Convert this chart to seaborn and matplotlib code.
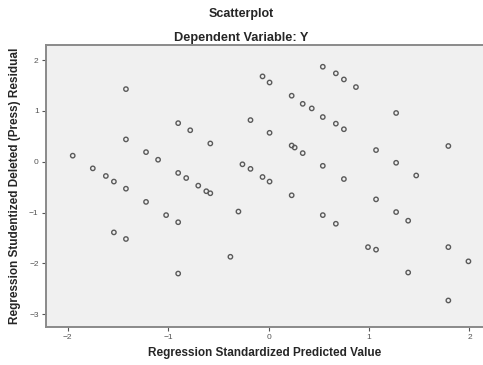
import matplotlib
matplotlib.use("Agg")
import matplotlib.pyplot as plt
import seaborn as sns
import pandas as pd

predicted = [-1.95, -1.75, -1.62, -1.54, -1.42, -1.42, -1.42, -1.54, -1.42, -1.22,
             -1.10, -1.22, -1.02, -0.90, -0.90, -0.90, -0.78, -0.90, -0.82, -0.70,
             -0.62, -0.58, -0.58, -0.38, -0.30, -0.26, -0.18, -0.18, -0.06, 0.01,
             -0.06, 0.01, 0.01, 0.23, 0.34, 0.43, 0.54, 0.67, 0.75, 0.54,
             0.67, 0.75, 0.87, 0.23, 0.26, 0.34, 0.23, 0.54, 0.75, 0.54,
             0.67, 1.07, 1.27, 1.27, 1.47, 1.79, 1.07, 1.27, 1.39, 0.99,
             1.07, 1.79, 1.99, 1.39, 1.79]
residual = [0.12, -0.13, -0.28, -0.39, -0.53, 1.43, 0.44, -1.39, -1.52, 0.19,
            0.04, -0.79, -1.05, -1.19, -2.20, 0.76, 0.62, -0.22, -0.32, -0.47,
            -0.58, -0.62, 0.36, -1.87, -0.98, -0.05, -0.14, 0.82, 1.68, 1.56,
            -0.30, -0.39, 0.57, 1.30, 1.14, 1.05, 0.88, 0.75, 0.64, 1.87,
            1.74, 1.62, 1.47, 0.32, 0.28, 0.17, -0.66, -0.08, -0.34, -1.05,
            -1.22, 0.23, 0.96, -0.02, -0.27, 0.31, -0.74, -0.99, -1.16, -1.68,
            -1.73, -1.68, -1.96, -2.18, -2.73]
x_ticks = [-2, -1, 0, 1, 2]
y_ticks = [-3, -2, -1, 0, 1, 2]

df = pd.DataFrame({"pred": predicted, "resid": residual})

sns.set_style("white")
plt.rcParams["font.family"] = ["Liberation Sans", "DejaVu Sans"]

fig = plt.figure(figsize=(4.83, 3.65), dpi=100)
ax = fig.add_axes([0.0944, 0.103, 0.9056, 0.774])
ax.set_facecolor("#f0f0f0")

sns.scatterplot(data=df, x="pred", y="resid", ax=ax, marker="o", s=10,
                facecolors="none", edgecolor="#5a5a5a", linewidth=1.0)

ax.set_xlim(-2.22, 2.135)
ax.set_ylim(-3.26, 2.30)
ax.set_xticks(x_ticks)
ax.set_yticks(y_ticks)
ax.tick_params(axis="both", labelsize=6, colors="#555555", length=3, width=0.8,
               direction="out", bottom=True, left=True, pad=2)
for side in ["left", "bottom", "top"]:
    ax.spines[side].set_color("#8a8a8a")
    ax.spines[side].set_linewidth(1.4)
ax.spines["right"].set_visible(False)

ax.set_xlabel("Regression Standardized Predicted Value", fontsize=8.5,
              fontweight="bold", labelpad=4)
ax.set_ylabel("Regression Studentized Deleted (Press) Residual", fontsize=8.5,
              fontweight="bold", labelpad=6)

fig.text(0.5, 0.963, "Scatterplot", ha="center", va="center", fontsize=9,
         fontweight="bold")
fig.text(0.5, 0.897, "Dependent Variable: Y", ha="center", va="center",
         fontsize=9.2, fontweight="bold")

fig.savefig("out.png", dpi=100)
